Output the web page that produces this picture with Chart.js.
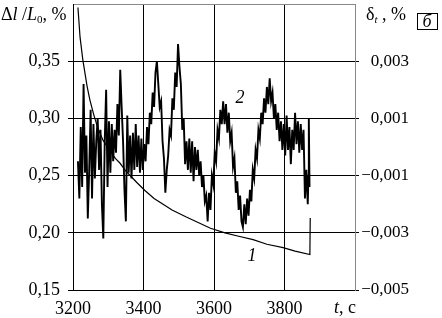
<!DOCTYPE html>
<html>
<head>
<meta charset="utf-8">
<script src="https://cdn.jsdelivr.net/npm/chart.js@4.4.1/dist/chart.umd.min.js"></script>
<style>
  html, body { margin: 0; padding: 0; background: #fff; }
  #wrap { width: 442px; height: 318px; }
</style>
</head>
<body>
<div id="wrap"><canvas id="mycanvas" width="442" height="318"></canvas></div>
<script>
// curve 1: dl/L0, % (left axis)
var t1 = [3214, 3220, 3228, 3240, 3248, 3260, 3270, 3285, 3300, 3320, 3333, 3350, 3381, 3404, 3430, 3460, 3481, 3520, 3555, 3590, 3631, 3670, 3711, 3750, 3796, 3830, 3872, 3873];
var v1 = [0.397, 0.371, 0.351, 0.328, 0.316, 0.302, 0.292, 0.281, 0.274, 0.265, 0.261, 0.254, 0.244, 0.237, 0.230, 0.224, 0.220, 0.214, 0.209, 0.204, 0.200, 0.197, 0.194, 0.190, 0.187, 0.184, 0.181, 0.213];

// curve 2: delta_t, % (right axis)
var t2 = [3214, 3218, 3222, 3226, 3230, 3234, 3238, 3242, 3246, 3250,
  3254, 3258, 3262, 3266, 3270, 3274, 3278, 3282, 3286, 3290,
  3294, 3298, 3302, 3306, 3310, 3314, 3318, 3322, 3326, 3330,
  3334, 3338, 3342, 3346, 3350, 3354, 3358, 3362, 3366, 3370,
  3374, 3378, 3382, 3386, 3390, 3394, 3398, 3402, 3406, 3410,
  3414, 3418, 3422, 3426, 3430, 3434, 3438, 3442, 3446, 3450,
  3454, 3458, 3462, 3466, 3470, 3474, 3478, 3482, 3486, 3490,
  3494, 3498, 3502, 3506, 3510, 3514, 3518, 3522, 3526, 3530,
  3534, 3538, 3542, 3546, 3550, 3554, 3558, 3562, 3566, 3570,
  3574, 3578, 3582, 3586, 3590, 3594, 3598, 3602, 3606, 3610,
  3614, 3618, 3622, 3626, 3630, 3634, 3638, 3642, 3646, 3650,
  3654, 3658, 3662, 3666, 3670, 3674, 3678, 3682, 3686, 3690,
  3694, 3698, 3702, 3706, 3710, 3714, 3718, 3722, 3726, 3730,
  3734, 3738, 3742, 3746, 3750, 3754, 3758, 3762, 3766, 3770,
  3774, 3778, 3782, 3786, 3790, 3794, 3798, 3802, 3806, 3810,
  3814, 3818, 3822, 3826, 3830, 3834, 3838, 3842, 3846, 3850,
  3854, 3858, 3862, 3866, 3868, 3869, 3871];
var d2 = [-0.0005, -0.0018, 0.0007, -0.0014, 0.0022, -0.0009, 0.0004, -0.0025, -0.0008, 0.0013,
  -0.0018, 0.0008, -0.0011, 0.0002, 0.0010, -0.0008, 0.0006, -0.0020, -0.0032, 0.0002,
  0.0020, -0.0014, 0.0009, -0.0009, 0.0008, -0.0005, 0.0006, -0.0002, 0.0015, 0.0004,
  0.0027, 0.0014, 0.0002, -0.0015, -0.0026, 0.0011, -0.0009, 0.0004, -0.0011, 0.0005,
  -0.0008, 0.0008, -0.0007, 0.0004, -0.0009, 0.0003, -0.0008, 0.0001, -0.0005, 0.0007,
  0.0001, 0.0012, 0.0008, 0.0019, 0.0014, 0.0026, 0.0030, 0.0022, 0.0014, 0.0016,
  0.0002, -0.0004, -0.0016, -0.0008, -0.0003, 0.0006, 0.0004, 0.0017, 0.0013, 0.0026,
  0.0021, 0.0036, 0.0028, 0.0022, 0.0006, 0.0010, -0.0006, 0.0002, -0.0008, 0.0003,
  -0.0009, 0.0002, -0.0012, 0.0000, -0.0008, -0.0001, -0.0010, -0.0005, -0.0014, -0.0010,
  -0.0019, -0.0017, -0.0026, -0.0016, -0.0022, -0.0010, -0.0013, -0.0002, -0.0005, 0.0006,
  0.0003, 0.0013, 0.0008, 0.0016, 0.0008, 0.0015, 0.0005, 0.0012, 0.0002, 0.0005,
  -0.0007, -0.0004, -0.0016, -0.0012, -0.0022, -0.0017, -0.0026, -0.0028, -0.0020, -0.0027,
  -0.0018, -0.0024, -0.0015, -0.0019, -0.0008, -0.0011, -0.0001, -0.0004, 0.0006, 0.0003,
  0.0012, 0.0008, 0.0017, 0.0012, 0.0021, 0.0015, 0.0024, 0.0016, 0.0019, 0.0010,
  0.0015, 0.0006, 0.0012, 0.0002, 0.0009, -0.0001, 0.0008, -0.0003, 0.0011, -0.0001,
  0.0007, -0.0006, 0.0006, -0.0001, 0.0012, 0.0001, 0.0009, -0.0002, 0.0008, -0.0001,
  0.0006, -0.0018, -0.0008, -0.0020, -0.0010, 0.0010, -0.0014];

var xTicks = [3200, 3400, 3600, 3800, 4000];
var yTicks = [0.15, 0.20, 0.25, 0.30, 0.35, 0.40];
var y2Ticks = [-0.005, -0.003, -0.001, 0.001, 0.003, 0.005];

var FONT = 'Liberation Serif';

function pts(xs, ys) {
  var out = [];
  for (var i = 0; i < xs.length; i++) out.push({x: xs[i], y: ys[i]});
  return out;
}

function drawParts(ctx, x, y, parts) {
  ctx.textBaseline = 'alphabetic';
  ctx.textAlign = 'left';
  parts.forEach(function(p) {
    ctx.font = p.f;
    ctx.fillText(p.t, x, y + (p.dy || 0));
    x += ctx.measureText(p.t).width;
  });
}

var labelsPlugin = {
  id: 'labels',
  afterDraw: function(chart) {
    var ctx = chart.ctx;
    ctx.save();
    ctx.fillStyle = '#000';
    var n = '18px ' + FONT, it = 'italic 18px ' + FONT, sub = '11px ' + FONT, subI = 'italic 11px ' + FONT;
    drawParts(ctx, 1, 20, [{t: '\u0394', f: n}, {t: 'l', f: it}, {t: ' /', f: n}, {t: 'L', f: it}, {t: '0', f: sub, dy: 3}, {t: ', %', f: n}]);
    drawParts(ctx, 366, 20, [{t: '\u03b4', f: n}, {t: 't', f: subI, dy: 3}, {t: ' , %', f: n}]);
    drawParts(ctx, 334, 313, [{t: 't', f: it}, {t: ', \u0441', f: n}]);
    // panel letter
    ctx.strokeStyle = '#000';
    ctx.lineWidth = 1;
    ctx.strokeRect(417.5, 13.5, 20, 16);
    ctx.font = 'italic 18px ' + FONT;
    ctx.textAlign = 'center';
    ctx.fillText('\u0431', 427, 27);
    // curve numbers
    ctx.fillText('2', 240, 103);
    ctx.fillText('1', 252, 261);
    ctx.restore();
  }
};

function fmt(v, d) {
  return v.toFixed(d).replace('.', ',').replace('-', '\u2212');
}

var ctx = document.getElementById('mycanvas');
var chart = new Chart(ctx, {
  type: 'line',
  data: {
    datasets: [
      {
        label: '1',
        data: pts(t1, v1),
        yAxisID: 'y',
        borderColor: '#000',
        borderWidth: 1.2,
        pointRadius: 0,
        tension: 0
      },
      {
        label: '2',
        data: pts(t2, d2),
        yAxisID: 'y2',
        borderColor: '#000',
        borderWidth: 1.9,
        pointRadius: 0,
        tension: 0
      }
    ]
  },
  options: {
    responsive: false,
    animation: false,
    events: [],
    layout: { padding: { top: 4, left: 0, right: 33, bottom: 0 } },
    plugins: { legend: { display: false }, tooltip: { enabled: false } },
    scales: {
      x: {
        type: 'linear',
        min: 3200,
        max: 4000,
        afterBuildTicks: function(s) { s.ticks = xTicks.map(function(v) { return {value: v}; }); },
        afterFit: function(s) { s.height = 28; s.paddingLeft = 0; s.paddingRight = 0; },
        ticks: {
          font: { family: FONT, size: 18 },
          color: '#000',
          padding: 8,
          maxRotation: 0,
          callback: function(v) { return v === 4000 ? '' : String(v); }
        },
        grid: {
          color: function(c) { return c.tick && c.tick.value === 4000 ? '#888' : '#000'; },
          lineWidth: 1,
          drawTicks: false
        },
        border: { color: '#000', width: 1 }
      },
      y: {
        position: 'left',
        min: 0.15,
        max: 0.40,
        afterBuildTicks: function(s) { s.ticks = yTicks.map(function(v) { return {value: v}; }); },
        afterFit: function(s) { s.width = 73; s.paddingTop = 0; s.paddingBottom = 0; },
        ticks: {
          font: { family: FONT, size: 18 },
          color: '#000',
          padding: 8,
          callback: function(v) { return Math.abs(v - 0.40) < 1e-9 ? '' : fmt(v, 2); }
        },
        grid: {
          color: function(c) { return c.tick && Math.abs(c.tick.value - 0.40) < 1e-9 ? '#888' : '#000'; },
          tickColor: function(c) { return c.tick && Math.abs(c.tick.value - 0.40) < 1e-9 ? 'rgba(0,0,0,0)' : '#000'; },
          lineWidth: 1,
          tickLength: 5
        },
        border: { color: '#000', width: 1 }
      },
      y2: {
        position: 'right',
        min: -0.005,
        max: 0.005,
        afterBuildTicks: function(s) { s.ticks = y2Ticks.map(function(v) { return {value: v}; }); },
        afterFit: function(s) { s.width = 54; s.paddingTop = 0; s.paddingBottom = 0; },
        ticks: {
          font: { family: FONT, size: 17 },
          color: '#000',
          padding: 0,
          crossAlign: 'far',
          callback: function(v) { return Math.abs(v - 0.005) < 1e-9 ? '' : fmt(v, 3); }
        },
        grid: {
          drawOnChartArea: false,
          tickColor: function(c) { return c.tick && Math.abs(c.tick.value - 0.005) < 1e-9 ? 'rgba(0,0,0,0)' : '#000'; },
          tickLength: 4
        },
        border: { color: '#888', width: 1 }
      }
    }
  },
  plugins: [labelsPlugin]
});
</script>
</body>
</html>
